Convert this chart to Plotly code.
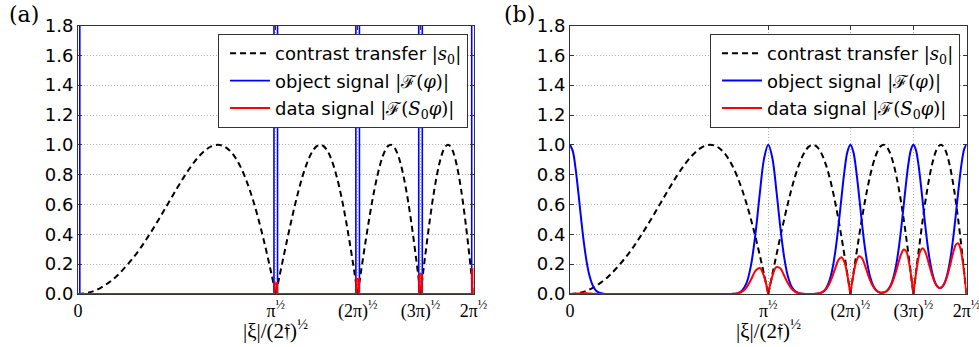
import plotly.graph_objects as go

# ---------------- data ----------------
tick_vals = [0.0, 1.7725, 2.5066, 3.0700, 3.5449]
tick_text = ["0", "π<sup>½</sup>", "(2π)<sup>½</sup>", "(3π)<sup>½</sup>", "2π<sup>½</sup>"]
y_ticks = [0.0, 0.2, 0.4, 0.6, 0.8, 1.0, 1.2, 1.4, 1.6, 1.8]
x_title = "|ξ|/(2𝔣)<sup>½</sup>"

# common abscissae of the sampled curves
x_grid = [
    0.3618, 0.5117, 0.6267, 0.7236, 0.8090, 0.8862, 0.9572, 1.0233, 1.0854, 1.1441, 1.2000, 1.2533,
    1.3045, 1.3537, 1.4012, 1.4472, 1.4918, 1.5350, 1.5771, 1.6180, 1.6580, 1.6970, 1.7351, 1.7725,
    1.8090, 1.8448, 1.8800, 1.9145, 1.9484, 1.9817, 2.0144, 2.0467, 2.0784, 2.1096, 2.1405, 2.1708,
    2.2008, 2.2303, 2.2594, 2.2882, 2.3167, 2.3447, 2.3725, 2.3999, 2.4270, 2.4539, 2.4804, 2.5066,
    2.5326, 2.5583, 2.5838, 2.6090, 2.6339, 2.6587, 2.6832, 2.7075, 2.7315, 2.7554, 2.7790, 2.8025,
    2.8258, 2.8488, 2.8717, 2.8944, 2.9169, 2.9393, 2.9615, 2.9835, 3.0054, 3.0270, 3.0486, 3.0700,
    3.0912, 3.1123, 3.1333, 3.1541, 3.1748, 3.1954, 3.2158, 3.2361, 3.2562, 3.2762, 3.2962, 3.3160,
    3.3356, 3.3552, 3.3747, 3.3940, 3.4132, 3.4324, 3.4514, 3.4703, 3.4891, 3.5078, 3.5264, 3.5449,
]

# contrast transfer |s0|
x_contrast_head = [0.0, 0.1, 0.2, 0.3]
contrast_head = [0.0, 0.01, 0.04, 0.0899]
contrast_grid = [
    0.1305, 0.2588, 0.3827, 0.5, 0.6088, 0.7071, 0.7934, 0.866, 0.9239, 0.9659, 0.9914, 1.0,
    0.9914, 0.9659, 0.9239, 0.866, 0.7934, 0.7071, 0.6088, 0.5, 0.3827, 0.2588, 0.1305, 0.0,
    0.1305, 0.2588, 0.3827, 0.5, 0.6088, 0.7071, 0.7934, 0.866, 0.9239, 0.9659, 0.9914, 1.0,
    0.9914, 0.9659, 0.9239, 0.866, 0.7934, 0.7071, 0.6088, 0.5, 0.3827, 0.2588, 0.1305, 0.0,
    0.1305, 0.2588, 0.3827, 0.5, 0.6088, 0.7071, 0.7934, 0.866, 0.9239, 0.9659, 0.9914, 1.0,
    0.9914, 0.9659, 0.9239, 0.866, 0.7934, 0.7071, 0.6088, 0.5, 0.3827, 0.2588, 0.1305, 0.0,
    0.1305, 0.2588, 0.3827, 0.5, 0.6088, 0.7071, 0.7934, 0.866, 0.9239, 0.9659, 0.9914, 1.0,
    0.9914, 0.9659, 0.9239, 0.866, 0.7934, 0.7071, 0.6088, 0.5, 0.3827, 0.2588, 0.1305, 0.0,
]

# panel (b) object and data signals
x_signal_head = [0.0, 0.025, 0.05, 0.075, 0.1, 0.125, 0.15, 0.175, 0.2, 0.225, 0.25, 0.3]
object_head = [1.0, 0.9577, 0.8411, 0.6776, 0.5006, 0.3392, 0.2108, 0.1201, 0.0628, 0.0301, 0.0132, 0.002]
object_grid = [
    0, 0, 0, 0, 0, 0, 0, 0, 0, 0, 0, 0,
    0, 0, 0, 0.0007, 0.0043, 0.0202, 0.0712, 0.1917, 0.4036, 0.674, 0.9077, 1.0,
    0.9119, 0.6965, 0.4495, 0.2478, 0.1175, 0.0484, 0.0174, 0.0055, 0.0015, 0.0004, 0.0002, 0.0004,
    0.0015, 0.0051, 0.0146, 0.0368, 0.0825, 0.163, 0.2881, 0.4549, 0.645, 0.8251, 0.9536, 1.0,
    0.9543, 0.8311, 0.6621, 0.484, 0.3258, 0.2017, 0.1155, 0.0612, 0.0306, 0.0149, 0.0088, 0.0094,
    0.017, 0.0341, 0.0658, 0.1184, 0.1975, 0.3067, 0.4428, 0.5959, 0.7492, 0.8799, 0.9688, 1.0,
    0.9694, 0.8836, 0.7578, 0.613, 0.4677, 0.3368, 0.2297, 0.1496, 0.0939, 0.0595, 0.0428, 0.0418,
    0.0558, 0.0865, 0.1363, 0.2068, 0.3011, 0.4165, 0.5461, 0.6804, 0.8061, 0.9092, 0.9766, 1.0,
]
data_head = [0.0, 0.0006, 0.0021, 0.0038, 0.005, 0.0053, 0.0047, 0.0037, 0.0025, 0.0015, 0.0008, 0.0002]
data_grid = [
    0, 0, 0, 0, 0, 0, 0, 0, 0, 0, 0, 0,
    0, 0, 0, 0.0006, 0.0034, 0.0143, 0.0433, 0.0959, 0.1545, 0.1744, 0.1185, 0.0,
    0.119, 0.1803, 0.172, 0.1239, 0.0715, 0.0342, 0.0138, 0.0048, 0.0014, 0.0004, 0.0002, 0.0004,
    0.0015, 0.0049, 0.0135, 0.0319, 0.0655, 0.1153, 0.1754, 0.2275, 0.2468, 0.2135, 0.1244, 0.0,
    0.1245, 0.2151, 0.2534, 0.242, 0.1983, 0.1426, 0.0916, 0.053, 0.0283, 0.0144, 0.0087, 0.0094,
    0.0169, 0.0329, 0.0608, 0.1025, 0.1567, 0.2169, 0.2696, 0.298, 0.2867, 0.2277, 0.1264, 0.0,
    0.1265, 0.2287, 0.29, 0.3065, 0.2847, 0.2382, 0.1822, 0.1296, 0.0868, 0.0575, 0.0424, 0.0418,
    0.0553, 0.0836, 0.1259, 0.1791, 0.2389, 0.2945, 0.3325, 0.3402, 0.3085, 0.2353, 0.1274, 0.0,
]

# panel (a): delta-like peaks (object peaks run off the top of the axes)
peak_pos_a = [0.0, 1.7725, 2.5066, 3.0700, 3.5449]
object_peak_a = [4.0, 4.0, 4.0, 4.0, 4.0]
data_peak_a = [0.0, 0.072, 0.100, 0.134, 0.166]

X_MAX = 3.5449

# ---------------- helpers ----------------
def split_cusps(x, y):
    """insert a gap at zero-valued cusps so the spline keeps a sharp V there"""
    X, Y = [], []
    for i, (a, b) in enumerate(zip(x, y)):
        X.append(a)
        Y.append(b)
        if 0 < i < len(y) - 1 and b == 0 and y[i - 1] > 0 and y[i + 1] > 0:
            X += [None, a]
            Y += [None, b]
    return X, Y


def spikes(pos, heights, half_w, xmax):
    xs, ys = [0.0], [0.0]
    for c, h in zip(pos, heights):
        xs += [c - half_w, c - half_w, c + half_w, c + half_w]
        ys += [0.0, h, h, 0.0]
    xs.append(xmax)
    ys.append(0.0)
    return xs, ys


xc, yc = split_cusps(x_contrast_head + x_grid, contrast_head + contrast_grid)
xs_sig = x_signal_head + x_grid
xo, yo = xs_sig, object_head + object_grid
xd, yd = split_cusps(xs_sig, data_head + data_grid)

SERIF = "DejaVu Serif"
TSERIF = "Liberation Serif"
SANS = "DejaVu Sans"
name_ct = 'contrast transfer <span style="font-family:DejaVu Serif">|<i>s</i><sub>0</sub>|</span>'
name_obj = 'object signal <span style="font-family:DejaVu Serif">|ℱ(<i>φ</i>)|</span>'
name_dat = 'data signal <span style="font-family:DejaVu Serif">|ℱ(<i>S</i><sub>0</sub><i>φ</i>)|</span>'

DASH = "6px,4px"
fig = go.Figure()

# ---- panel (a)
fig.add_trace(go.Scatter(x=xc, y=yc, mode="lines", name=name_ct, legend="legend", legendgroup="a1",
                         line=dict(color="black", width=2, dash=DASH, shape="spline"),
                         xaxis="x", yaxis="y", hoverinfo="skip"))
bx, by = spikes(peak_pos_a, object_peak_a, 0.016, X_MAX)
fig.add_trace(go.Scatter(x=bx, y=by, mode="lines", name=name_obj, legend="legend", legendgroup="a2",
                         line=dict(color="#0000ff", width=1.6),
                         xaxis="x", yaxis="y", hoverinfo="skip"))
rx, ry = spikes(peak_pos_a, data_peak_a, 0.011, X_MAX)
fig.add_trace(go.Scatter(x=rx, y=ry, mode="lines", name=name_dat, legend="legend", legendgroup="a3",
                         line=dict(color="#ff0000", width=2.2),
                         xaxis="x", yaxis="y", hoverinfo="skip"))

# ---- panel (b)
fig.add_trace(go.Scatter(x=xc, y=yc, mode="lines", name=name_ct, legend="legend2", legendgroup="b1",
                         line=dict(color="black", width=2, dash=DASH, shape="spline"),
                         xaxis="x2", yaxis="y2", hoverinfo="skip"))
fig.add_trace(go.Scatter(x=xo, y=yo, mode="lines", name=name_obj, legend="legend2", legendgroup="b2",
                         line=dict(color="#0000ff", width=2, shape="spline"),
                         xaxis="x2", yaxis="y2", hoverinfo="skip"))
fig.add_trace(go.Scatter(x=xd, y=yd, mode="lines", name=name_dat, legend="legend2", legendgroup="b3",
                         line=dict(color="#ff0000", width=2, shape="spline"),
                         xaxis="x2", yaxis="y2", hoverinfo="skip"))

W, H = 979, 347
ydom = [53 / H, 321.5 / H]
xdom_a = [78 / W, 473.5 / W]
xdom_b = [570 / W, 966.5 / W]
FRAME = "#333333"

def xaxis_cfg(dom):
    return dict(domain=dom, range=[0, X_MAX], tickvals=tick_vals, ticktext=tick_text,
                automargin=False, ticklabeloverflow="allow",
                ticks="inside", ticklen=4, tickcolor=FRAME, showline=True, linecolor=FRAME,
                linewidth=1, mirror="ticks", showgrid=True, gridcolor="#b0b0b0", griddash="1px,2px",
                gridwidth=1, zeroline=False, tickfont=dict(family=TSERIF, size=18, color="black"),
                fixedrange=True)

def yaxis_cfg(anchor):
    return dict(domain=ydom, range=[0, 1.8], tickvals=y_ticks, tickformat=".1f", anchor=anchor,
                automargin=False,
                ticks="inside", ticklen=4, tickcolor=FRAME, showline=True, linecolor=FRAME,
                linewidth=1, mirror="ticks", showgrid=True, gridcolor="#b0b0b0", griddash="1px,2px",
                gridwidth=1, zeroline=False, tickfont=dict(family=SANS, size=18, color="black"),
                fixedrange=True)

def legend_cfg(x_left):
    return dict(x=x_left / W, y=(H - 34) / H, xanchor="left", yanchor="top", bgcolor="white",
                bordercolor=FRAME, borderwidth=1, font=dict(family=SANS, size=18, color="black"),
                tracegroupgap=1, itemwidth=40, indentation=6)

def title_ann(dom):
    return dict(text=x_title, x=(dom[0] + dom[1]) / 2, y=(H - 329) / H, xref="paper", yref="paper",
                xanchor="center", yanchor="middle", showarrow=False,
                font=dict(family=TSERIF, size=21, color="black"))

fig.update_layout(
    width=W, height=H, margin=dict(l=0, r=0, t=0, b=0, autoexpand=False),
    paper_bgcolor="white", plot_bgcolor="white", showlegend=True,
    xaxis=xaxis_cfg(xdom_a), yaxis=yaxis_cfg("x"),
    xaxis2=xaxis_cfg(xdom_b), yaxis2=yaxis_cfg("x2"),
    legend=legend_cfg(218), legend2=legend_cfg(710),
    annotations=[
        title_ann(xdom_a), title_ann(xdom_b),
        dict(text="(a)", x=7 / W, y=(H - 15) / H, xref="paper", yref="paper", xanchor="left",
             yanchor="middle", showarrow=False, font=dict(family=SERIF, size=22, color="black")),
        dict(text="(b)", x=502 / W, y=(H - 15) / H, xref="paper", yref="paper", xanchor="left",
             yanchor="middle", showarrow=False, font=dict(family=SERIF, size=22, color="black")),
    ],
)

fig.write_html("out.html", config={"displayModeBar": False})
